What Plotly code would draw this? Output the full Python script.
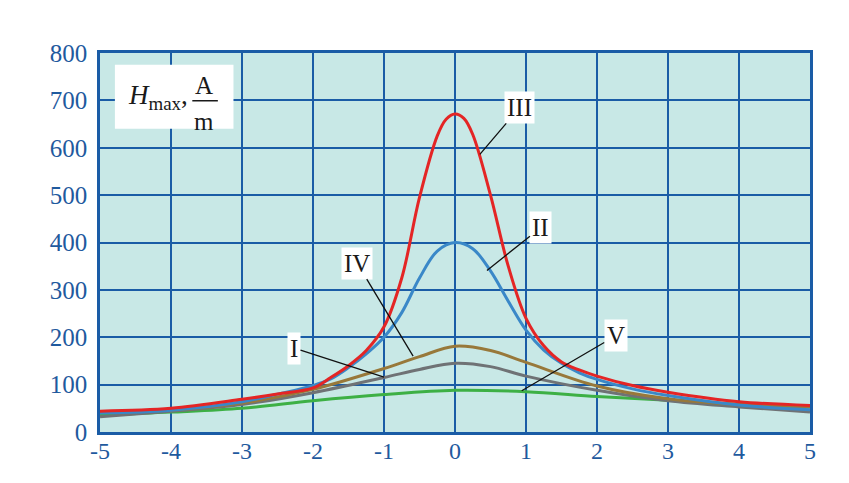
import plotly.graph_objects as go

# Data
x_III = [-5, -4, -3, -2.5, -2, -1.75, -1.5, -1.25, -1, -0.75, -0.5, -0.25, -0.125, 0, 0.125, 0.25,
         0.5, 0.75, 1, 1.25, 1.5, 1.75, 2, 2.5, 3, 4, 5]
y_III = [44, 50, 69, 80, 93, 115, 140, 172, 222, 325, 495, 625, 660, 671, 662, 628,
         500, 350, 240, 182, 148, 131, 118, 98, 84, 64, 56]

x_II = [-5, -4, -3, -2.5, -2, -1.75, -1.5, -1.25, -1, -0.75, -0.5, -0.25, 0, 0.25,
        0.5, 0.75, 1, 1.25, 1.5, 1.75, 2, 2.5, 3, 4, 5]
y_II = [40, 46, 64, 80, 98, 112, 136, 165, 200, 252, 325, 382, 400, 387,
        340, 276, 215, 173, 145, 125, 111, 91, 77, 57, 47]

x_IV = [-5, -4, -3, -2, -1, -0.5, 0, 0.5, 1, 2, 3, 4, 5]
y_IV = [42, 46, 61, 90, 134, 159, 181, 172, 147, 97, 70, 58, 53]

x_I = [-5, -4, -3, -2, -1, -0.5, 0, 0.5, 1, 2, 3, 4, 5]
y_I = [32, 44, 58, 83, 115, 132, 145, 138, 118, 88, 66, 53, 42]

x_V = [-5, -4, -3, -2, -1, 0, 1, 2, 3, 4, 5]
y_V = [36, 42, 50, 66, 79, 88, 85, 75, 67, 58, 53]

x_ticks = [-5, -4, -3, -2, -1, 0, 1, 2, 3, 4, 5]
x_tick_text = ["-5", "-4", "-3", "-2", "-1", "0", "1", "2", "3", "4", "5"]
y_ticks = [0, 100, 200, 300, 400, 500, 600, 700, 800]

series = [
    ("V", x_V, y_V, "#3db045"),
    ("I", x_I, y_I, "#6f7275"),
    ("IV", x_IV, y_IV, "#98783a"),
    ("II", x_II, y_II, "#3a88c8"),
    ("III", x_III, y_III, "#e42525"),
]

# Label annotations: name, point (x, y), offset (ax, ay) in px
labels = [
    ("III", 0.35, 586, 40, -47),
    ("II", 0.45, 341, 54, -43),
    ("IV", -0.59, 160, -56, -93),
    ("I", -1.0, 116, -90, -29),
    ("V", 0.94, 87, 94, -55),
]

axis_blue = "#1a5ca6"
tick_blue = "#1f5a9e"
serif = "Liberation Serif"
ink = "#1a1a1a"

fig = go.Figure()
for name, xs, ys, col in series:
    fig.add_trace(go.Scatter(x=xs, y=ys, mode="lines", name=name,
                             line=dict(color=col, width=3, shape="spline", smoothing=1.0),
                             showlegend=False, hoverinfo="skip"))

annotations = []
for name, px, py, ax, ay in labels:
    annotations.append(dict(
        x=px, y=py, xref="x", yref="y", text=name, showarrow=True,
        arrowhead=0, arrowwidth=1.3, arrowcolor="#111111", ax=ax, ay=ay,
        bgcolor="white", borderpad=2,
        font=dict(family=serif, size=25, color=ink),
    ))

# H_max, A/m label
annotations += [
    dict(x=0.037, y=0.885, xref="paper", yref="paper", showarrow=False,
         text="<i>H</i><sub>max</sub>,", xanchor="left", yanchor="middle",
         font=dict(family=serif, size=27, color=ink)),
    dict(x=0.147, y=0.913, xref="paper", yref="paper", showarrow=False,
         text="A", xanchor="center", yanchor="middle",
         font=dict(family=serif, size=25, color=ink)),
    dict(x=0.147, y=0.818, xref="paper", yref="paper", showarrow=False,
         text="m", xanchor="center", yanchor="middle",
         font=dict(family=serif, size=25, color=ink)),
]

shapes = [
    dict(type="rect", xref="paper", yref="paper", x0=0.021, x1=0.188, y0=0.80, y1=0.969,
         fillcolor="white", line=dict(width=0), layer="above"),
    dict(type="line", xref="paper", yref="paper", x0=0.130, x1=0.166, y0=0.874, y1=0.874,
         line=dict(color=ink, width=1.5), layer="above"),
]

fig.update_layout(
    width=849, height=483,
    margin=dict(l=92, r=47, t=45, b=59),
    paper_bgcolor="white",
    plot_bgcolor="#c8e8e6",
    annotations=annotations,
    shapes=shapes,
    font=dict(family=serif),
)
fig.update_xaxes(range=[-5, 5], tickvals=x_ticks, ticktext=x_tick_text,
                 showgrid=True, gridcolor=axis_blue, gridwidth=2,
                 showline=True, linecolor=axis_blue, linewidth=2.5, mirror=True,
                 zeroline=False, ticks="", ticklabelstandoff=-5,
                 tickfont=dict(family=serif, size=24, color=tick_blue))
fig.update_yaxes(range=[0, 800], tickvals=y_ticks,
                 showgrid=True, gridcolor=axis_blue, gridwidth=2,
                 showline=True, linecolor=axis_blue, linewidth=2.5, mirror=True,
                 zeroline=False, ticks="", ticklabelstandoff=5,
                 tickfont=dict(family=serif, size=25, color=tick_blue))

fig.write_html("out.html")
